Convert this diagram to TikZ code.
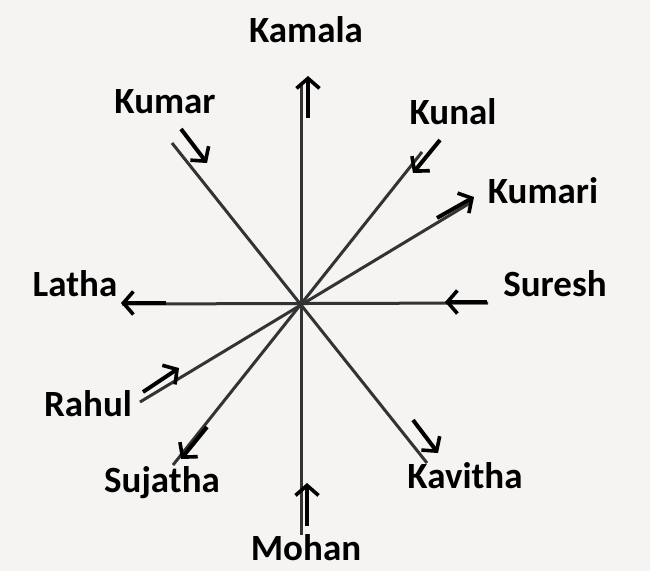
\documentclass[tikz,border=0pt]{standalone}
\usepackage{fontspec}
\setmainfont{Carlito}
\usetikzlibrary{arrows.meta}
\definecolor{bg}{HTML}{F5F4F2}
\definecolor{ray}{HTML}{333333}
\begin{document}
\begin{tikzpicture}[x=1pt,y=-1pt,
  ray/.style={draw=ray,line width=3pt},
  dirarrow/.style={draw=black,line width=4pt,-{Straight Barb[length=10pt,width=23pt,line width=3.6pt]}},
  lbl/.style={font=\fontsize{37}{40}\selectfont\bfseries,text=black,inner sep=0pt,anchor=base}]
\fill[bg] (0,0) rectangle (650,571);
\useasboundingbox (0,0) rectangle (650,571);
\coordinate (c) at (300,307);
% ray ends
\coordinate (eN) at (301,85);
\coordinate (eS) at (301,535);
\coordinate (eW) at (122,304);
\coordinate (eE) at (488,303);
\coordinate (eNW) at (172,143);
\coordinate (eSE) at (427,463);
\coordinate (eNE) at (422,152);
\coordinate (eSW) at (173,465);
\coordinate (eENE) at (470,203);
\coordinate (eWSW) at (140,402);
\draw[ray] (eN) -- (eS);
\draw[ray] (eW) -- (eE);
\draw[ray] (eNW) -- (eSE);
\draw[ray] (eNE) -- (eSW);
\draw[ray] (eENE) -- (eWSW);
% arrows
\coordinate (kamalaA) at (308,118); \coordinate (kamalaB) at (308,76);
\coordinate (mohanA) at (307,526); \coordinate (mohanB) at (307,483);
\coordinate (lathaA) at (166,303); \coordinate (lathaB) at (121,303);
\coordinate (sureshA) at (487,302); \coordinate (sureshB) at (445,302);
\coordinate (kumarA) at (181,129); \coordinate (kumarB) at (207,163);
\coordinate (kavithaA) at (413,420); \coordinate (kavithaB) at (438,453);
\coordinate (kunalA) at (440,140); \coordinate (kunalB) at (413,173);
\coordinate (sujathaA) at (207,427); \coordinate (sujathaB) at (181,459);
\coordinate (kumariA) at (437,218); \coordinate (kumariB) at (474,197);
\coordinate (rahulA) at (143,392); \coordinate (rahulB) at (179,368);
\draw[dirarrow] (kamalaA) -- (kamalaB);
\draw[dirarrow] (mohanA) -- (mohanB);
\draw[dirarrow] (lathaA) -- (lathaB);
\draw[dirarrow] (sureshA) -- (sureshB);
\draw[dirarrow] (kumarA) -- (kumarB);
\draw[dirarrow] (kavithaA) -- (kavithaB);
\draw[dirarrow] (kunalA) -- (kunalB);
\draw[dirarrow] (sujathaA) -- (sujathaB);
\draw[dirarrow] (kumariA) -- (kumariB);
\draw[dirarrow] (rahulA) -- (rahulB);
% labels
\node[lbl] (kamala) at (306,42) {Kamala};
\node[lbl] (kumar) at (165,113) {Kumar};
\node[lbl] (kunal) at (453,124) {Kunal};
\node[lbl] (kumari) at (543,203) {Kumari};
\node[lbl] (latha) at (75,296) {Latha};
\node[lbl] (suresh) at (555,296) {Suresh};
\node[lbl] (rahul) at (88,416) {Rahul};
\node[lbl] (sujatha) at (162,492) {Sujatha};
\node[lbl] (kavitha) at (465,488) {Kavitha};
\node[lbl] (mohan) at (306,560) {Mohan};
\end{tikzpicture}
\end{document}
